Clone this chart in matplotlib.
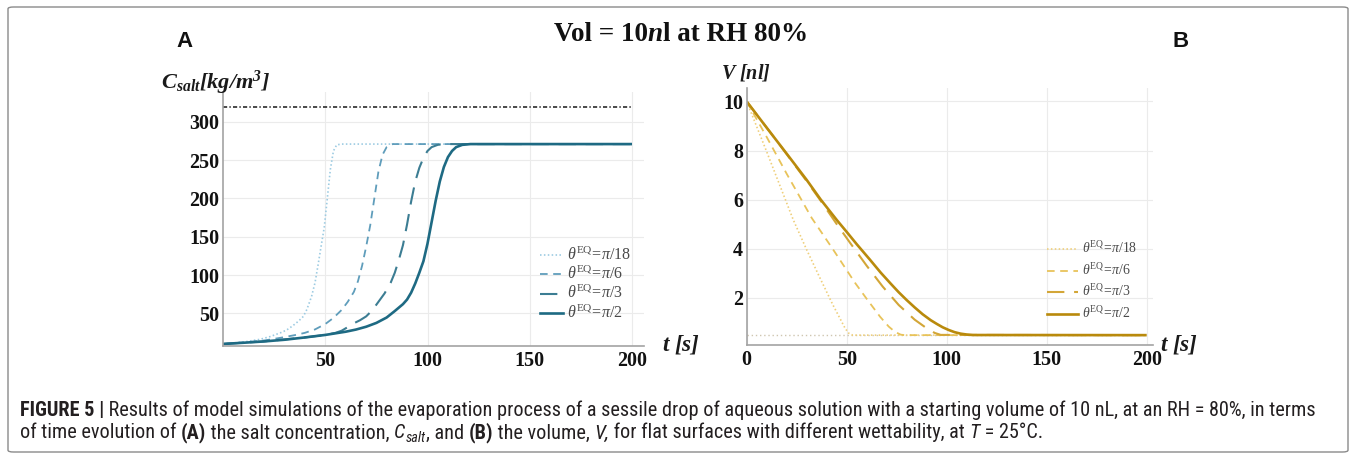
import matplotlib
matplotlib.use("Agg")
import matplotlib.pyplot as plt
from matplotlib import font_manager
from matplotlib.font_manager import FontProperties
from matplotlib.lines import Line2D
from matplotlib.patches import FancyBboxPatch

W, H, DPI = 1356, 457, 100

# ---------------- data ----------------
# Panel A: salt concentration C_salt [kg/m^3] vs t [s]
t_a_pi18 = [0, 10, 18, 23, 28, 31, 34, 37, 39.3, 41, 43.3, 45, 46.6, 48, 49.5, 51, 52.5, 54, 55.6, 58, 200]
c_a_pi18 = [10, 12.5, 16, 19.6, 24.5, 28, 33.5, 40, 46, 55, 72, 90, 115, 138, 162, 200, 238, 262, 270, 271, 271]

t_a_pi6 = [0, 10, 20, 28, 35, 40, 45, 50, 54, 58, 61, 64, 66, 68, 70, 72, 74, 76, 78, 80, 83, 200]
c_a_pi6 = [10, 12, 14.5, 18, 21.5, 24.5, 29, 36, 44, 54.4, 65, 78, 92, 112, 137, 165, 200, 235, 257, 267, 271, 271]

t_a_pi3 = [0, 20, 40, 50, 55, 58, 61, 64, 67, 70, 73, 76, 79, 82, 84, 86, 88, 90, 92, 94, 96, 98, 100, 102, 105, 108, 200]
c_a_pi3 = [10, 13.3, 18.5, 21.8, 24.5, 27.3, 32, 37, 41, 46, 54, 65, 76, 90, 103, 120, 139, 166, 196, 222, 240, 253, 262, 267, 270, 271, 271]

t_a_pi2 = [0, 10, 20, 30, 40, 50, 60, 65, 70, 75, 80, 84, 88, 90, 92, 94, 96, 98, 100, 102, 104, 106, 108, 110, 112, 114, 117, 121, 200]
c_a_pi2 = [10, 11.6, 13.3, 15.5, 18.5, 21.8, 26, 28.8, 32.5, 37.5, 44.5, 53, 62, 68, 77, 89, 103, 118, 141, 169, 197, 222, 241, 254, 262, 267, 270, 271, 271]

c_saturation = 319

# Panel B: volume V [nl] vs t [s]
t_b_pi18 = [0, 10, 23.3, 30, 36.7, 43, 49.2, 51, 53, 200]
v_b_pi18 = [10, 7.95, 5.17, 3.95, 2.79, 1.72, 0.75, 0.55, 0.47, 0.47]

t_b_pi6 = [0, 10, 20, 32.5, 43.3, 54.2, 60, 66.7, 71, 74.2, 77, 79, 200]
v_b_pi6 = [10, 8.55, 7.05, 5.25, 3.95, 2.6, 1.95, 1.22, 0.82, 0.6, 0.49, 0.47, 0.47]

t_b_pi3 = [0, 15, 30, 37, 45, 52, 60, 68, 76, 84, 90, 94, 97, 200]
v_b_pi3 = [10, 8.4, 6.75, 5.95, 5.0, 4.2, 3.3, 2.45, 1.7, 1.1, 0.75, 0.56, 0.48, 0.47]

t_b_pi2 = [0, 10, 20, 30, 37, 45, 50, 55, 61.7, 67, 72, 76, 80, 84, 88, 92, 95, 98, 101, 104, 107, 110, 113, 200]
v_b_pi2 = [10, 8.93, 7.87, 6.8, 6.0, 5.17, 4.68, 4.18, 3.54, 3.02, 2.57, 2.22, 1.9, 1.6, 1.32, 1.08, 0.93, 0.79, 0.68, 0.59, 0.53, 0.495, 0.475, 0.47]

v_final = 0.47
t_span = [0, 200]

legend_labels = [r"$\theta^{\rm EQ}\!=\!\pi/18$", r"$\theta^{\rm EQ}\!=\!\pi/6$",
                 r"$\theta^{\rm EQ}\!=\!\pi/3$", r"$\theta^{\rm EQ}\!=\!\pi/2$"]

xticks_a = [50, 100, 150, 200]
yticks_a = [50, 100, 150, 200, 250, 300]
xticks_b = [0, 50, 100, 150, 200]
yticks_b = [2, 4, 6, 8, 10]

# ---------------- styles ----------------
blues = ["#9ccbe2", "#5f9dbb", "#3c7d93", "#1e6a83"]
golds = ["#efcf7a", "#e8c35a", "#d3a637", "#b98a0c"]
widths = [1.2, 1.3, 1.5, 1.9]
dashes = [(1.1, 1.7), (5.5, 4.0), (12.5, 7.0), None]

plt.rcParams['font.family'] = ['Liberation Serif']
plt.rcParams['mathtext.fontset'] = 'custom'
plt.rcParams['mathtext.rm'] = 'Liberation Serif'
plt.rcParams['mathtext.it'] = 'Liberation Serif:italic'
plt.rcParams['mathtext.bf'] = 'Liberation Serif:italic:bold'
plt.rcParams['lines.scale_dashes'] = False

# caption font: prefer a narrow sans face if one is installed
_names = {f.name for f in font_manager.fontManager.ttflist}
cap_family = 'Liberation Sans'
for cand in ('Liberation Sans Narrow', 'Roboto Condensed'):
    if cand in _names:
        cap_family = cand
        break

fig = plt.figure(figsize=(W / DPI, H / DPI), dpi=DPI)
renderer = fig.canvas.get_renderer()


def box(x0, y_top, x1, y_bot):
    return [x0 / W, 1 - y_bot / H, (x1 - x0) / W, (y_bot - y_top) / H]


def fx(x):
    return x / W


def fy(y):
    return 1 - y / H


def width_of(t):
    return t.get_window_extent(renderer).width


def fit(t, target):
    for _ in range(3):
        w = width_of(t)
        t.set_fontsize(t.get_fontsize() * target / w)


def style_axes(ax, xt, yt):
    for s in ['top', 'right']:
        ax.spines[s].set_visible(False)
    for s in ['left', 'bottom']:
        ax.spines[s].set_color('#a3a3a3')
        ax.spines[s].set_linewidth(1.2)
    ax.grid(True, color='#ebebeb', lw=0.8)
    ax.set_axisbelow(True)
    ax.set_xticks(xt, labels=[str(v) for v in xt])
    ax.set_yticks(yt, labels=[str(v) for v in yt])
    for lab in ax.get_xticklabels() + ax.get_yticklabels():
        lab.set_fontproperties(FontProperties(family='Liberation Serif', weight='bold',
                                              size=14.4))
        lab.set_color('#111111')
    ax.tick_params(axis='both', length=0)
    ax.tick_params(axis='x', pad=4)
    ax.tick_params(axis='y', pad=2.5)
    ax.set_facecolor('none')


def draw(ax, t, y, i, colors):
    kw = dict(color=colors[i], lw=widths[i], solid_capstyle='butt')
    line, = ax.plot(t, y, **kw)
    if dashes[i] is not None:
        line.set_dashes(dashes[i])
    return line


# ---------------- Panel A ----------------
axA = fig.add_axes(box(223, 92, 223 + 206 * 2.045, 345.5))
axA.set_xlim(0, 206)
axA.set_ylim(8, 339)
style_axes(axA, xticks_a, yticks_a)
axA.plot(t_span, [c_saturation, c_saturation], color='#3a3a3a', lw=1.3,
         dashes=(3.0, 1.6, 1.0, 1.6))
for i, (t, c) in enumerate([(t_a_pi18, c_a_pi18), (t_a_pi6, c_a_pi6),
                            (t_a_pi3, c_a_pi3), (t_a_pi2, c_a_pi2)]):
    draw(axA, t, c, i, blues)

# ---------------- Panel B ----------------
axB = fig.add_axes(box(746.7, 88, 746.7 + 203 * 2.0, 344.7))
axB.set_xlim(0, 203)
axB.set_ylim(0.08, 10.55)
style_axes(axB, xticks_b, yticks_b)
axB.plot(t_span, [v_final, v_final], color='#cfc6b0', lw=1.0, dashes=(1.0, 2.0))
for i, (t, v) in enumerate([(t_b_pi18, v_b_pi18), (t_b_pi6, v_b_pi6),
                            (t_b_pi3, v_b_pi3), (t_b_pi2, v_b_pi2)]):
    draw(axB, t, v, i, golds)

# ---------------- legends (drawn manually) ----------------
def legend(rows, lx0, lx1, tx, colors, target_w):
    size = 9.5
    for i, (yy, lab) in enumerate(zip(rows, legend_labels)):
        ln = Line2D([fx(lx0), fx(lx1)], [fy(yy), fy(yy)], transform=fig.transFigure,
                    color=colors[i], lw=widths[i])
        if dashes[i] is not None:
            ln.set_dashes(dashes[i])
        fig.add_artist(ln)
        t = fig.text(fx(tx), fy(yy), lab, fontsize=size, ha='left', va='center',
                     color='#4a4a4a')
        if i == 0:
            fit(t, target_w)
            size = t.get_fontsize()


legend([255, 274, 293.5, 313], 540, 563, 567, blues, 64)
legend([248.5, 270.5, 291.5, 313.5], 1047, 1078, 1082, golds, 55)

# ---------------- axis labels ----------------
ylabA = fig.text(fx(161), fy(83), r"$\mathbf{C_{salt}[kg/m^3]}$", fontsize=15,
                 ha='left', va='center', color='#1a1a1a')
fit(ylabA, 109)
ylabB = fig.text(fx(721), fy(73), r"$\mathbf{V\ [nl]}$", fontsize=15,
                 ha='left', va='center', color='#1a1a1a')
fit(ylabB, 50)
for x in (662, 1160):
    tl = fig.text(fx(x), fy(344), r"$\mathbf{t\ [s]}$", fontsize=15,
                  ha='left', va='center', color='#1a1a1a')
    fit(tl, 38)

# ---------------- title, panel letters, caption ----------------
def pieces_line(pieces, x0, y_base, size, family, color):
    x = x0
    objs = []
    for txt, kw in pieces:
        s = size * kw.get('scale', 1.0)
        dy = kw.get('dy', 0.0) * size
        fp = FontProperties(family=family, weight=kw.get('weight', 'normal'),
                            style=kw.get('style', 'normal'), size=s)
        t = fig.text(fx(x), fy(y_base + dy), txt, fontproperties=fp,
                     ha='left', va='baseline', color=color)
        probe = fig.text(0, 0, 'x' + txt + 'x', fontproperties=fp)
        w1 = width_of(probe)
        probe.set_text('xx')
        w0 = width_of(probe)
        probe.remove()
        x += w1 - w0
        objs.append(t)
    return x - x0, objs


def place_fitted(pieces, x0, y_base, target_w, family, color, center=False, size0=12):
    w, objs = pieces_line(pieces, x0, y_base, size0, family, color)
    for o in objs:
        o.remove()
    size = size0 * target_w / w
    if center:
        x0 = x0 - target_w / 2
    pieces_line(pieces, x0, y_base, size, family, color)
    return size


title_pieces = [("Vol = 10", dict(weight='bold')), ("n", dict(weight='bold', style='italic')),
                ("l at RH 80%", dict(weight='bold'))]
place_fitted(title_pieces, 681, 41, 255, 'Liberation Serif', '#111111', center=True, size0=18)

for letter, x in (("A", 176), ("B", 1172)):
    fig.text(fx(x), fy(47), letter,
             fontproperties=FontProperties(family='Liberation Sans', weight='bold', size=16),
             ha='left', va='baseline', color='#111111')

cap1 = [("FIGURE 5 |", dict(weight='bold')),
        (" Results of model simulations of the evaporation process of a sessile drop of aqueous "
         "solution with a starting volume of 10 nL, at an RH = 80%, in terms", {})]
cap2 = [("of time evolution of ", {}), ("(A)", dict(weight='bold')),
        (" the salt concentration, ", {}), ("C", dict(style='italic')),
        ("salt", dict(style='italic', scale=0.7, dy=0.25)), (", and ", {}),
        ("(B)", dict(weight='bold')), (" the volume, ", {}), ("V,", dict(style='italic')),
        (" for flat surfaces with different wettability, at ", {}), ("T", dict(style='italic')),
        (" = 25°C.", {})]
cap_size = place_fitted(cap1, 20, 416, 1290, cap_family, '#231f20', size0=11)
pieces_line(cap2, 20, 438.5, cap_size, cap_family, '#231f20')

# ---------------- frame ----------------
frame = FancyBboxPatch((fx(8), fy(452)), fx(1340), (452 - 7) / H,
                       boxstyle="round,pad=0,rounding_size=0.004",
                       transform=fig.transFigure, fill=False, edgecolor='#8a8a8a', lw=1.0)
fig.add_artist(frame)

fig.savefig("out.png", dpi=DPI)
